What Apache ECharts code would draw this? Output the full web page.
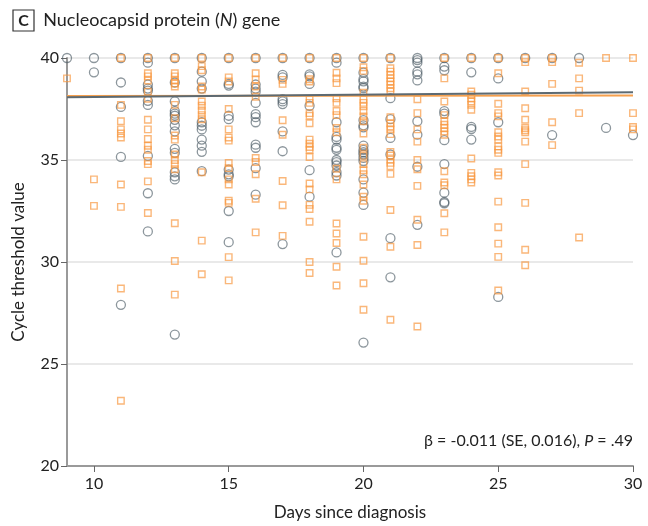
<!DOCTYPE html>
<html>
<head>
<meta charset="utf-8">
<script src="https://cdn.jsdelivr.net/npm/echarts@6/dist/echarts.min.js"></script>
<style>
  html, body { margin: 0; padding: 0; background: #fff; }
  #main { width: 648px; height: 526px; }
</style>
</head>
<body>
<div id="main"></div>
<script>
// 灰色圆圈：[天数, Ct值]
var grayPoints = [
  [9, 40],
  [10, 40], [10, 39.3],
  [11, 40], [11, 38.8], [11, 37.6], [11, 35.15], [11, 27.9],
  [12, 40], [12, 39.77], [12, 38.7], [12, 38.5], [12, 38.4], [12, 37.9], [12, 37.7], [12, 35.2], [12, 33.37], [12, 31.5],
  [13, 40], [13, 38.8], [13, 37.87], [13, 37.4], [13, 37.27], [13, 37.17], [13, 36.97], [13, 36.7], [13, 36.4], [13, 35.55], [13, 35.35], [13, 34.4], [13, 34.2], [13, 34.05], [13, 26.44],
  [14, 40], [14, 39.33], [14, 38.85], [14, 38.5], [14, 36.85], [14, 36.68], [14, 36.5], [14, 36.0], [14, 35.7], [14, 35.4], [14, 34.45],
  [15, 40], [15, 38.73], [15, 38.65], [15, 37.17], [15, 37.0], [15, 34.53], [15, 34.3], [15, 34.2], [15, 32.5], [15, 30.97],
  [16, 40], [16, 38.7], [16, 38.5], [16, 38.35], [16, 37.8], [16, 37.25], [16, 37.1], [16, 36.85], [16, 35.75], [16, 35.6], [16, 34.6], [16, 33.3],
  [17, 40], [17, 39.17], [17, 39.05], [17, 37.98], [17, 37.87], [17, 37.74], [17, 36.4], [17, 35.43], [17, 30.88],
  [18, 40], [18, 39.2], [18, 39.1], [18, 38.73], [18, 37.66], [18, 34.5], [18, 33.2],
  [19, 40], [19, 39.77], [19, 36.85], [19, 36.13], [19, 36.0], [19, 35.6], [19, 35.5], [19, 35.0], [19, 34.9], [19, 34.73], [19, 34.4], [19, 34.24], [19, 30.47],
  [20, 40], [20, 39.28], [20, 38.96], [20, 38.85], [20, 38.6], [20, 38.52], [20, 36.95], [20, 36.7], [20, 36.6], [20, 35.7], [20, 35.5], [20, 35.38], [20, 35.27], [20, 35.1], [20, 34.95], [20, 34.05], [20, 33.4], [20, 32.8], [20, 26.05],
  [21, 40], [21, 38.03], [21, 37.0], [21, 36.08], [21, 35.27], [21, 31.17], [21, 29.25],
  [22, 40], [22, 39.9], [22, 39.77], [22, 39.33], [22, 39.2], [22, 38.9], [22, 36.9], [22, 36.24], [22, 34.67], [22, 31.82],
  [23, 40], [23, 39.58], [23, 39.4], [23, 37.4], [23, 37.27], [23, 35.97], [23, 34.8], [23, 33.4], [23, 32.94], [23, 32.88],
  [24, 40], [24, 39.3], [24, 36.62], [24, 36.52], [24, 36.0],
  [25, 40], [25, 39.0], [25, 36.85], [25, 28.29],
  [26, 40],
  [27, 40], [27, 36.22],
  [28, 40],
  [29, 36.57],
  [30, 36.22]
];

// 橙色方块：[天数, Ct值]
var orangePoints = [
  [9, 39.0],
  [10, 34.05], [10, 32.75],
  [11, 40], [11, 37.7], [11, 36.9], [11, 36.5], [11, 36.3], [11, 36.1], [11, 33.8], [11, 32.7], [11, 28.7], [11, 23.2],
  [12, 40], [12, 39.25], [12, 39.1], [12, 38.9], [12, 38.35], [12, 38.0], [12, 36.97], [12, 36.5], [12, 36.03], [12, 35.7], [12, 35.5], [12, 34.95], [12, 34.8], [12, 33.95], [12, 32.4],
  [13, 40], [13, 39.25], [13, 39.1], [13, 38.9], [13, 38.75], [13, 38.6], [13, 37.7], [13, 37.05], [13, 36.2], [13, 36.0], [13, 35.27], [13, 35.0], [13, 34.8], [13, 34.55], [13, 31.9], [13, 30.05], [13, 28.4],
  [14, 40], [14, 39.6], [14, 39.4], [14, 38.6], [14, 38.45], [14, 37.87], [14, 37.66], [14, 37.43], [14, 37.2], [14, 37.0], [14, 34.4], [14, 31.05], [14, 29.4],
  [15, 40], [15, 39.05], [15, 38.85], [15, 37.5], [15, 36.5], [15, 36.1], [15, 35.95], [15, 34.85], [15, 34.6], [15, 34.05], [15, 33.8], [15, 33.0], [15, 32.9], [15, 30.24], [15, 29.1],
  [16, 40], [16, 39.25], [16, 38.95], [16, 38.6], [16, 38.1], [16, 35.1], [16, 34.9], [16, 34.3], [16, 33.1], [16, 31.45],
  [17, 40], [17, 38.93], [17, 38.73], [17, 36.95], [17, 36.24], [17, 33.97], [17, 32.78], [17, 31.28],
  [18, 40], [18, 38.96], [18, 38.85], [18, 37.98], [18, 37.8], [18, 37.3], [18, 37.17], [18, 36.8], [18, 36.0], [18, 35.8], [18, 35.64], [18, 35.5], [18, 35.15], [18, 33.85], [18, 33.56], [18, 32.8], [18, 32.6], [18, 31.97], [18, 30.0], [18, 29.46],
  [19, 40], [19, 39.28], [19, 39.0], [19, 38.77], [19, 38.03], [19, 37.8], [19, 37.4], [19, 37.2], [19, 36.57], [19, 36.36], [19, 34.57], [19, 34.05], [19, 31.89], [19, 31.4], [19, 30.93], [19, 29.77], [19, 28.85],
  [20, 40], [20, 39.55], [20, 39.37], [20, 38.3], [20, 37.98], [20, 37.8], [20, 37.63], [20, 37.4], [20, 37.13], [20, 36.9], [20, 36.3], [20, 35.6], [20, 35.2], [20, 34.8], [20, 34.5], [20, 34.3], [20, 33.8], [20, 33.2], [20, 33.0], [20, 31.24], [20, 30.06], [20, 28.96], [20, 27.66],
  [21, 40], [21, 39.5], [21, 39.33], [21, 39.17], [21, 39.0], [21, 38.85], [21, 38.7], [21, 38.52], [21, 38.36], [21, 37.1], [21, 36.8], [21, 36.65], [21, 36.5], [21, 36.27], [21, 35.4], [21, 35.22], [21, 35.02], [21, 34.86], [21, 34.7], [21, 34.32], [21, 32.55], [21, 30.75], [21, 27.17],
  [22, 37.98], [22, 37.3], [22, 36.5], [22, 35.9], [22, 35.0], [22, 34.55], [22, 33.73], [22, 32.07], [22, 30.83], [22, 26.84],
  [23, 40], [23, 39.0], [23, 37.87], [23, 37.2], [23, 36.9], [23, 36.73], [23, 36.57], [23, 36.4], [23, 36.24], [23, 34.45], [23, 33.9], [23, 33.76], [23, 32.39], [23, 31.45],
  [24, 40], [24, 38.36], [24, 38.2], [24, 38.03], [24, 37.87], [24, 37.7], [24, 37.46], [24, 35.07], [24, 34.37], [24, 34.2], [24, 34.05], [24, 33.9],
  [25, 40], [25, 39.25], [25, 37.76], [25, 37.3], [25, 37.14], [25, 36.36], [25, 36.15], [25, 36.0], [25, 35.67], [25, 35.5], [25, 35.35], [25, 34.4], [25, 34.24], [25, 32.96], [25, 31.7], [25, 30.9], [25, 30.25], [25, 28.6],
  [26, 40], [26, 39.8], [26, 38.36], [26, 37.54], [26, 36.97], [26, 36.57], [26, 36.46], [26, 36.36], [26, 35.9], [26, 34.8], [26, 32.9], [26, 30.6], [26, 29.84],
  [27, 40], [27, 39.8], [27, 38.73], [27, 36.85], [27, 35.73],
  [28, 39.77], [28, 39.0], [28, 38.4], [28, 37.3], [28, 31.2],
  [29, 40],
  [30, 40], [30, 37.3], [30, 36.62], [30, 36.5]
];

// 拟合线端点
var fitGray = [[9, 38.07], [30, 38.32]];
var fitOrange = [[9, 38.14], [30, 38.16]];

var xTicks = [10, 15, 20, 25, 30];

var font = "Lato";
var myChart = echarts.init(document.getElementById("main"));

var option = {
  backgroundColor: "#fff",
  animation: false,
  textStyle: { fontFamily: font },
  title: {
    left: 8,
    top: 6,
    text: "{box|C}{t|  Nucleocapsid protein (}{i|N}{t|) gene}",
    textStyle: {
      fontWeight: "normal",
      rich: {
        box: {
          fontFamily: font, fontSize: 16, fontWeight: "bold", color: "#222",
          borderColor: "#333", borderWidth: 1.2, width: 13, align: "center",
          padding: [3, 4, 2, 4], lineHeight: 19
        },
        t: { fontFamily: font, fontSize: 18, fontWeight: "normal", color: "#222" },
        i: { fontFamily: font, fontSize: 18, fontWeight: "normal", color: "#222", fontStyle: "italic" }
      }
    }
  },
  grid: { left: 67, right: 15, top: 58, bottom: 58 },
  xAxis: {
    type: "value",
    min: 9,
    max: 30,
    name: "Days since diagnosis",
    nameLocation: "middle",
    nameGap: 38,
    nameTextStyle: { fontSize: 17, color: "#222", fontFamily: font },
    axisLine: { lineStyle: { color: "#9a9a9a", width: 2 } },
    axisTick: { show: true, length: 6, customValues: xTicks, lineStyle: { color: "#666" } },
    axisLabel: { customValues: xTicks, fontSize: 16, color: "#222", margin: 10, fontFamily: font },
    splitLine: { show: false }
  },
  yAxis: {
    type: "value",
    min: 20,
    max: 40,
    interval: 5,
    name: "Cycle threshold value",
    nameLocation: "middle",
    nameGap: 40,
    nameTextStyle: { fontSize: 17, color: "#222", fontFamily: font },
    axisLine: { show: true, lineStyle: { color: "#9a9a9a", width: 2 } },
    axisTick: { show: true, length: 6, lineStyle: { color: "#666" } },
    axisLabel: { fontSize: 16, color: "#222", margin: 8, fontFamily: font },
    splitLine: { show: true, lineStyle: { color: "#e2e2e2", width: 1.5 } }
  },
  graphic: [
    {
      type: "text",
      right: 15,
      top: 433,
      style: {
        text: "{t|β = -0.011 (SE, 0.016), }{i|P}{t| = .49}",
        rich: {
          t: { fontFamily: font, fontSize: 16, fill: "#222" },
          i: { fontFamily: font, fontSize: 16, fill: "#222", fontStyle: "italic" }
        }
      }
    }
  ],
  series: [
    {
      name: "circles",
      type: "scatter",
      data: grayPoints,
      symbol: "circle",
      symbolSize: 9,
      clip: false,
      itemStyle: { color: "rgba(0,0,0,0)", borderColor: "rgba(75,90,100,0.8)", borderWidth: 1.3 },
      z: 2
    },
    {
      name: "squares",
      type: "scatter",
      data: orangePoints,
      symbol: "rect",
      symbolSize: 6.5,
      clip: false,
      itemStyle: { color: "rgba(0,0,0,0)", borderColor: "rgba(247,150,60,0.85)", borderWidth: 1.4 },
      z: 3
    },
    {
      name: "fit orange",
      type: "line",
      data: fitOrange,
      showSymbol: false,
      lineStyle: { color: "#f5a04e", width: 2 },
      z: 4
    },
    {
      name: "fit gray",
      type: "line",
      data: fitGray,
      showSymbol: false,
      lineStyle: { color: "#5d6a72", width: 2 },
      z: 5
    }
  ]
};

myChart.setOption(option);
</script>
</body>
</html>
